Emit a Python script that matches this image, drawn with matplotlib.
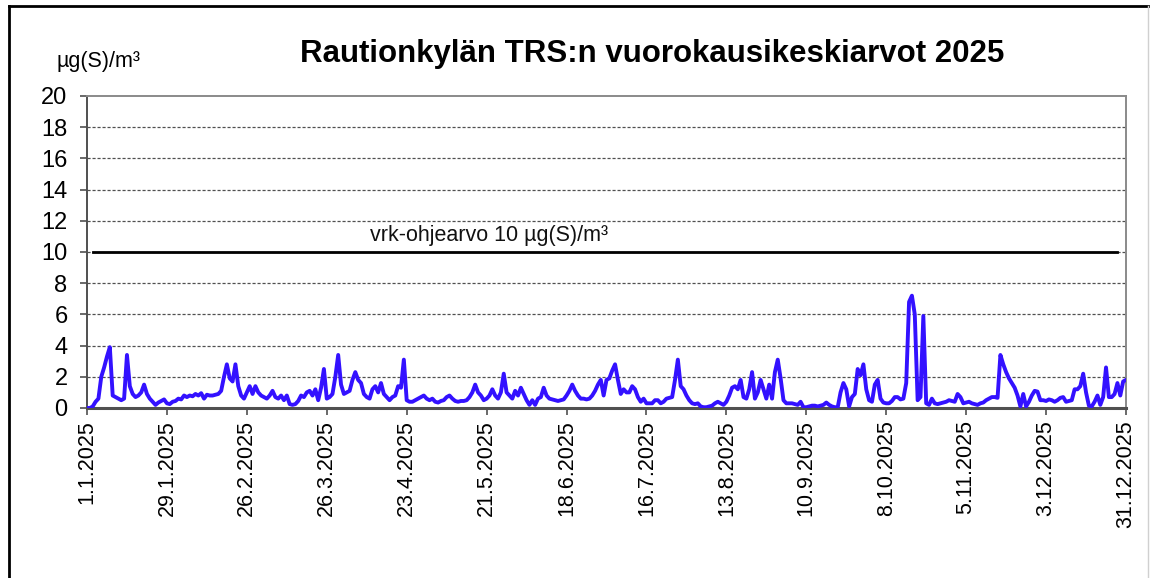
import matplotlib
matplotlib.use("Agg")
import matplotlib.pyplot as plt
from matplotlib.lines import Line2D
import pandas as pd

plt.rcParams['font.family'] = ['Liberation Sans', 'DejaVu Sans']

# ---- data (daily means, µg(S)/m³) ----
jan = [0, 0, 0.1, 0.4, 0.6, 2.0, 2.6, 3.3, 3.9, 0.8, 0.7, 0.6, 0.5, 0.6, 3.4, 1.4,
       0.9, 0.7, 0.8, 1.0, 1.5, 0.9, 0.6, 0.4, 0.2, 0.35, 0.45, 0.55, 0.3, 0.25, 0.4]
feb = [0.45, 0.6, 0.55, 0.8, 0.7, 0.8, 0.75, 0.9, 0.8, 0.95, 0.6, 0.85, 0.8, 0.8,
       0.85, 0.9, 1.1, 2.0, 2.8, 1.9, 1.7, 2.8, 1.4, 0.8, 0.6, 1.0, 1.4, 0.9]
mar = [1.4, 1.0, 0.8, 0.7, 0.6, 0.8, 1.1, 0.7, 0.6, 0.8, 0.5, 0.8, 0.25, 0.2, 0.25,
       0.45, 0.8, 0.7, 1.0, 1.1, 0.8, 1.2, 0.5, 1.3, 2.5, 0.6, 0.7, 0.9, 2.0, 3.4, 1.5]
apr = [0.9, 1.0, 1.1, 1.8, 2.3, 1.8, 1.6, 0.9, 0.7, 0.6, 1.2, 1.4, 1.0, 1.6, 0.9,
       0.7, 0.5, 0.7, 0.8, 1.4, 1.3, 3.1, 0.5, 0.4, 0.4, 0.5, 0.6, 0.7, 0.8, 0.6]
may = [0.5, 0.6, 0.4, 0.35, 0.45, 0.5, 0.7, 0.8, 0.6, 0.45, 0.4, 0.45, 0.45, 0.5,
       0.7, 1.0, 1.5, 1.0, 0.8, 0.5, 0.6, 0.8, 1.2, 0.8, 0.6, 1.0, 2.2, 1.0, 0.8, 0.6, 1.1]
jun = [0.8, 1.3, 0.9, 0.5, 0.2, 0.5, 0.2, 0.6, 0.7, 1.3, 0.8, 0.6, 0.55, 0.5, 0.45,
       0.5, 0.55, 0.8, 1.1, 1.5, 1.1, 0.8, 0.6, 0.6, 0.55, 0.6, 0.8, 1.1, 1.5, 1.8]
jul = [0.8, 1.8, 1.9, 2.4, 2.8, 1.8, 0.9, 1.2, 1.0, 1.0, 1.4, 1.2, 0.7, 0.4, 0.6,
       0.3, 0.3, 0.3, 0.5, 0.5, 0.3, 0.4, 0.6, 0.65, 0.7, 1.8, 3.1, 1.4, 1.2, 0.8, 0.5]
aug = [0.3, 0.25, 0.3, 0.1, 0.05, 0.05, 0.1, 0.15, 0.3, 0.4, 0.3, 0.2, 0.4, 0.8,
       1.3, 1.4, 1.2, 1.8, 0.7, 0.6, 1.2, 2.3, 0.6, 1.0, 1.8, 1.2, 0.6, 1.5, 0.6, 2.3, 3.1]
sep = [1.9, 0.5, 0.3, 0.3, 0.3, 0.25, 0.2, 0.4, 0.05, 0.05, 0.1, 0.15, 0.15, 0.1,
       0.15, 0.2, 0.35, 0.2, 0.1, 0.05, 0.05, 1.0, 1.6, 1.2, 0.1, 0.7, 0.9, 2.5, 2.1, 2.8]
oct_ = [1.2, 0.5, 0.4, 1.5, 1.8, 0.6, 0.35, 0.3, 0.3, 0.45, 0.7, 0.7, 0.55, 0.6, 1.6,
        6.8, 7.2, 6.0, 0.5, 0.7, 5.9, 0.3, 0.2, 0.6, 0.3, 0.25, 0.3, 0.35, 0.4, 0.5, 0.45]
nov = [0.4, 0.9, 0.7, 0.3, 0.35, 0.4, 0.3, 0.25, 0.2, 0.3, 0.35, 0.5, 0.6, 0.7, 0.7,
       0.65, 3.4, 2.8, 2.3, 1.9, 1.6, 1.3, 0.8, 0.1, 0.9, 0.1, 0.4, 0.8, 1.1, 1.05]
dec = [0.5, 0.5, 0.45, 0.55, 0.5, 0.4, 0.5, 0.65, 0.7, 0.4, 0.45, 0.5, 1.2, 1.2, 1.4,
       2.2, 1.0, 0.15, 0.1, 0.4, 0.8, 0.2, 0.7, 2.6, 0.7, 0.7, 0.9, 1.6, 0.8, 1.7, 1.8]

guideline_value = 10
guideline_label = "vrk-ohjearvo 10 µg(S)/m³"
title = "Rautionkylän TRS:n vuorokausikeskiarvot 2025"
unit_label = "µg(S)/m³"
y_ticks = list(range(0, 21, 2))

values = jan + feb + mar + apr + may + jun + jul + aug + sep + oct_ + nov + dec
dates = pd.date_range("2025-01-01", periods=len(values), freq="D")

# ---- figure ----
W, H = 1153, 578
fig = plt.figure(figsize=(W / 100, H / 100), dpi=100)
ax = fig.add_axes([87 / W, 1 - 408 / H, (1126 - 87) / W, (408 - 96) / H])

# gridlines
for yv in y_ticks[1:-1]:
    ax.axhline(yv, color="#505050", lw=0.9, ls=(0, (2.5, 1.5)), zorder=1)

# guideline
ax.plot([dates[2], dates[361]], [guideline_value, guideline_value],
        color="black", lw=2.0, zorder=2)
ax.text(dates[141], guideline_value + 0.72, guideline_label, fontsize=15.5,
        ha="center", va="baseline", color="#111111")

# data
ax.plot(dates, values, color="#3311FF", lw=2.8, zorder=3, solid_joinstyle="round")

ax.set_xlim(dates[0], dates[-1])
ax.set_ylim(0, 20)
ax.set_yticks(y_ticks)
ax.set_yticklabels([str(v) for v in y_ticks], fontsize=17)
xt = dates[::28]
ax.set_xticks(xt)
ax.set_xticklabels([f"{d.day}.{d.month}.{d.year}" for d in xt], rotation=90,
                   fontsize=15.5)
ax.tick_params(axis="both", direction="out", length=5, width=1.2, color="#505050")
ax.tick_params(axis="y", pad=9)
ax.tick_params(axis="x", pad=4)

for s in ["top", "right"]:
    ax.spines[s].set_color("#8a8a8a")
    ax.spines[s].set_linewidth(1.4)
ax.spines["left"].set_color("#505050")
ax.spines["left"].set_linewidth(1.4)
ax.spines["bottom"].set_color("#505050")
ax.spines["bottom"].set_linewidth(2.2)

# titles
fig.text(652 / W, 1 - 54 / H, title, fontsize=22.5, fontweight="bold",
         ha="center", va="center")
fig.text(56 / W, 1 - 62 / H, unit_label, fontsize=15.5, ha="left", va="center")

# outer frame
fig.add_artist(Line2D([9 / W, 1148 / W], [1 - 6 / H, 1 - 6 / H],
                      transform=fig.transFigure, color="black", lw=2))
fig.add_artist(Line2D([9 / W, 9 / W], [0, 1 - 6 / H], transform=fig.transFigure,
                      color="black", lw=2))
fig.add_artist(Line2D([1148 / W, 1148 / W], [0, 1 - 6 / H], transform=fig.transFigure,
                      color="#d0d0d0", lw=1))

fig.savefig("out.png", dpi=100)
